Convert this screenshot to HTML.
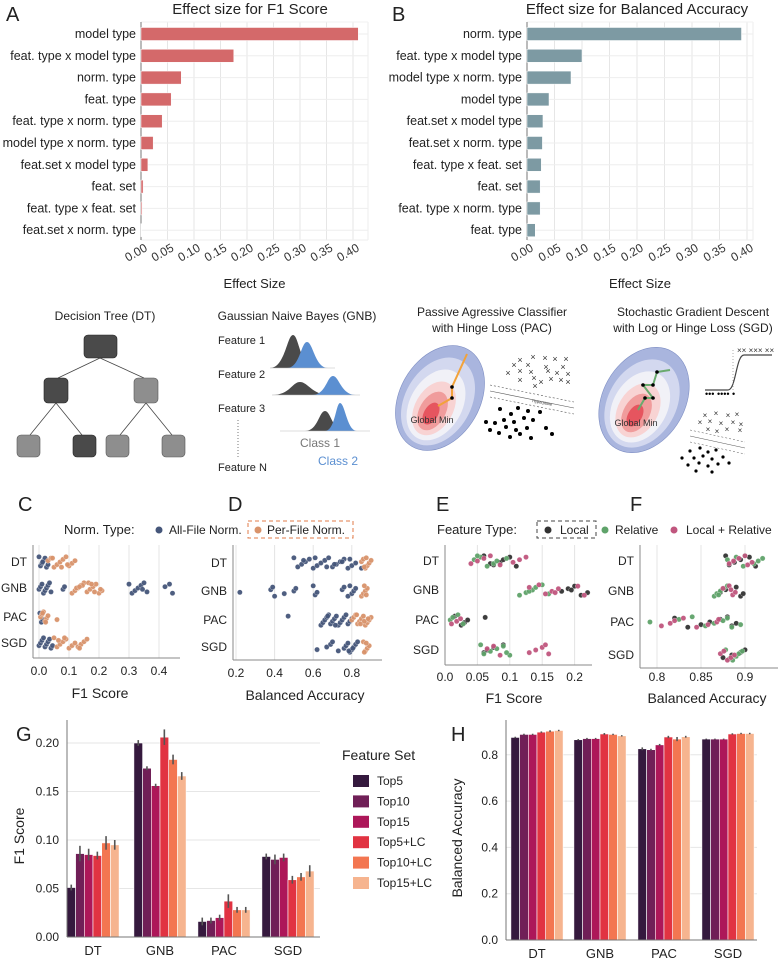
<!DOCTYPE html>
<html><head><meta charset="utf-8"><style>
html,body{margin:0;padding:0;background:#fff;}
svg{display:block;font-family:"Liberation Sans",sans-serif;}
</style></head><body>
<svg id="fig" width="780" height="960" viewBox="0 0 780 960" xmlns="http://www.w3.org/2000/svg">
<g id="gA"></g>
<g id="gB"></g>
<g id="diagrams">
  <g>
    <text x="105" y="320" font-size="12" text-anchor="middle" fill="#222">Decision Tree (DT)</text>
    <g stroke="#444" stroke-width="0.8" fill="none">
      <line x1="100" y1="358" x2="58" y2="378"/><line x1="100" y1="358" x2="144" y2="378"/>
      <line x1="56" y1="403" x2="30" y2="435"/><line x1="56" y1="403" x2="82" y2="435"/>
      <line x1="146" y1="403" x2="120" y2="435"/><line x1="146" y1="403" x2="172" y2="435"/>
    </g>
    <rect x="84" y="335" width="33" height="23" rx="4" fill="#4a4a4a" stroke="#222" stroke-width="0.6"/>
    <rect x="44" y="378" width="24" height="25" rx="4" fill="#4a4a4a" stroke="#222" stroke-width="0.6"/>
    <rect x="134" y="378" width="24" height="25" rx="4" fill="#8e8e8e" stroke="#555" stroke-width="0.6"/>
    <rect x="17" y="435" width="23" height="22" rx="4" fill="#8e8e8e" stroke="#555" stroke-width="0.6"/>
    <rect x="73" y="435" width="23" height="22" rx="4" fill="#4a4a4a" stroke="#222" stroke-width="0.6"/>
    <rect x="106" y="435" width="23" height="22" rx="4" fill="#8e8e8e" stroke="#555" stroke-width="0.6"/>
    <rect x="162" y="435" width="23" height="22" rx="4" fill="#8e8e8e" stroke="#555" stroke-width="0.6"/>
  </g>
  <g>
    <text x="297" y="320" font-size="12" text-anchor="middle" fill="#222">Gaussian Naive Bayes (GNB)</text>
    <g font-size="11" fill="#222">
      <text x="218" y="344">Feature 1</text><text x="218" y="378">Feature 2</text>
      <text x="218" y="412">Feature 3</text><text x="218" y="471">Feature N</text>
    </g>
    <line x1="238" y1="420" x2="238" y2="458" stroke="#777" stroke-dasharray="1,2"/>
    <path d="M270 368 C285 368 287 335 293 335 C299 335 300 368 315 368Z" fill="#4a4a4a"/>
    <path d="M287 368 C300 368 301 342 307 342 C313 342 315 368 328 368Z" fill="#5b8fd1"/>
    <line x1="270" y1="368" x2="335" y2="368" stroke="#bbb" stroke-width="0.6"/>
    <path d="M272 395 C290 395 292 382 300 382 C308 382 312 395 330 395Z" fill="#4a4a4a"/>
    <path d="M312 395 C326 395 327 376 333 376 C339 376 341 395 356 395Z" fill="#5b8fd1"/>
    <line x1="272" y1="395" x2="360" y2="395" stroke="#bbb" stroke-width="0.6"/>
    <path d="M305 431 C318 431 319 411 325 411 C331 411 332 431 345 431Z" fill="#4a4a4a"/>
    <path d="M325 431 C335 431 336 403 340 403 C345 403 347 431 357 431Z" fill="#5b8fd1"/>
    <line x1="280" y1="431" x2="370" y2="431" stroke="#bbb" stroke-width="0.6"/>
    <text x="320" y="447" font-size="12" text-anchor="middle" fill="#777">Class 1</text>
    <text x="338" y="465" font-size="12" text-anchor="middle" fill="#5b8fd1">Class 2</text>
  </g>
  <g>
    <text x="492" y="316" font-size="12" text-anchor="middle" fill="#222">Passive Agressive Classifier</text>
    <text x="492" y="332" font-size="12" text-anchor="middle" fill="#222">with Hinge Loss (PAC)</text>
    <g transform="translate(440,398) rotate(30)">
      <ellipse cx="0" cy="0" rx="40" ry="56" fill="#a9b5de" stroke="#7f8fc4" stroke-width="0.6"/>
      <ellipse cx="0" cy="4" rx="33" ry="47" fill="#d3d8ef"/>
      <ellipse cx="0" cy="8" rx="26" ry="38" fill="#f1f1f7"/>
      <ellipse cx="0" cy="12" rx="19" ry="29" fill="#f8d3d3"/>
      <ellipse cx="0" cy="15" rx="13" ry="21" fill="#f09c9c"/>
      <ellipse cx="0" cy="18" rx="7" ry="12" fill="#e6555f"/>
    </g>
    <polyline points="467,354 452,387 452,398 438,406" fill="none" stroke="#f2a23a" stroke-width="2"/>
    <circle cx="452" cy="387" r="1.8" fill="#000"/><circle cx="452" cy="398" r="1.8" fill="#000"/>
    <text x="432" y="423" font-size="9" text-anchor="middle" fill="#333">Global Min</text>
    <g font-size="9" fill="#333" text-anchor="middle">
      <text x="520" y="363">×</text><text x="533" y="360">×</text><text x="545" y="361">×</text><text x="555" y="362">×</text><text x="566" y="362">×</text>
      <text x="514" y="368">×</text><text x="528" y="368">×</text><text x="546" y="370">×</text><text x="563" y="370">×</text>
      <text x="508" y="376">×</text><text x="520" y="374">×</text><text x="531" y="375">×</text><text x="548" y="374">×</text><text x="557" y="376">×</text><text x="568" y="377">×</text>
      <text x="520" y="383">×</text><text x="534" y="381">×</text><text x="541" y="385">×</text><text x="551" y="382">×</text><text x="561" y="383">×</text><text x="568" y="385">×</text><text x="535" y="389">×</text>
    </g>
    <g stroke="#555" stroke-width="0.6">
      <line x1="490" y1="385" x2="574" y2="402" stroke-dasharray="2,2"/>
      <line x1="490" y1="391" x2="574" y2="408"/>
      <line x1="490" y1="397" x2="574" y2="414" stroke-dasharray="2,2"/>
    </g>
    <text x="532" y="402" font-size="4" fill="#333" transform="rotate(11 532 402)">Hyperplane</text>
    <g fill="#000">
      <circle cx="500" cy="409" r="2"/><circle cx="518" cy="408" r="2"/><circle cx="511" cy="414" r="2"/><circle cx="528" cy="411" r="2"/><circle cx="540" cy="412" r="2"/>
      <circle cx="486" cy="422" r="2"/><circle cx="495" cy="423" r="2"/><circle cx="504" cy="420" r="2"/><circle cx="514" cy="422" r="2"/><circle cx="524" cy="418" r="2"/><circle cx="533" cy="420" r="2"/>
      <circle cx="490" cy="430" r="2"/><circle cx="506" cy="427" r="2"/><circle cx="516" cy="430" r="2"/><circle cx="527" cy="428" r="2"/><circle cx="546" cy="428" r="2"/>
      <circle cx="499" cy="433" r="2"/><circle cx="520" cy="434" r="2"/><circle cx="531" cy="438" r="2"/><circle cx="510" cy="437" r="2"/><circle cx="552" cy="434" r="2"/>
    </g>
  </g>
  <g>
    <text x="693" y="316" font-size="12" text-anchor="middle" fill="#222">Stochastic Gradient Descent</text>
    <text x="693" y="332" font-size="12" text-anchor="middle" fill="#222">with Log or Hinge Loss (SGD)</text>
    <g transform="translate(644,400) rotate(30)">
      <ellipse cx="0" cy="0" rx="41" ry="56" fill="#a9b5de" stroke="#7f8fc4" stroke-width="0.6"/>
      <ellipse cx="0" cy="4" rx="34" ry="47" fill="#d3d8ef"/>
      <ellipse cx="0" cy="8" rx="27" ry="38" fill="#f1f1f7"/>
      <ellipse cx="0" cy="12" rx="20" ry="29" fill="#f8d3d3"/>
      <ellipse cx="0" cy="15" rx="13" ry="21" fill="#f09c9c"/>
      <ellipse cx="0" cy="18" rx="7" ry="12" fill="#e6555f"/>
    </g>
    <polyline points="670,370 657,372 653,385 643,385 653,398 645,398 638,410" fill="none" stroke="#6aaa6e" stroke-width="2"/>
    <circle cx="657" cy="372" r="1.8" fill="#000"/><circle cx="643" cy="385" r="1.8" fill="#000"/><circle cx="653" cy="385" r="1.8" fill="#000"/><circle cx="645" cy="398" r="1.8" fill="#000"/><circle cx="653" cy="398" r="1.8" fill="#000"/>
    <text x="636" y="426" font-size="9" text-anchor="middle" fill="#333">Global Min</text>
    <path d="M705 390 L728 390 C736 390 736 355 744 355 L772 355" fill="none" stroke="#444" stroke-width="1.2"/>
    <line x1="733" y1="350" x2="733" y2="392" stroke="#777" stroke-width="0.6" stroke-dasharray="1,2"/>
    <text x="737" y="353" font-size="8" fill="#333">××  ×××  ××</text>
    <text x="705" y="397" font-size="9" fill="#000">•••  ••••  •</text>
    <g font-size="8" fill="#333" text-anchor="middle">
      <text x="705" y="418">×</text><text x="716" y="416">×</text><text x="728" y="418">×</text><text x="737" y="417">×</text>
      <text x="700" y="425">×</text><text x="710" y="424">×</text><text x="721" y="426">×</text><text x="733" y="425">×</text><text x="741" y="427">×</text>
      <text x="708" y="432">×</text><text x="717" y="434">×</text><text x="727" y="432">×</text><text x="740" y="433">×</text>
    </g>
    <g stroke="#555" stroke-width="0.5">
      <line x1="690" y1="430" x2="745" y2="442" stroke-dasharray="2,2"/>
      <line x1="690" y1="436" x2="745" y2="448"/>
      <line x1="690" y1="442" x2="745" y2="454" stroke-dasharray="2,2"/>
    </g>
    <g fill="#000">
      <circle cx="690" cy="451" r="1.6"/><circle cx="700" cy="448" r="1.6"/><circle cx="708" cy="452" r="1.6"/><circle cx="716" cy="450" r="1.6"/>
      <circle cx="682" cy="458" r="1.6"/><circle cx="694" cy="458" r="1.6"/><circle cx="703" cy="456" r="1.6"/><circle cx="712" cy="459" r="1.6"/><circle cx="723" cy="457" r="1.6"/>
      <circle cx="688" cy="465" r="1.6"/><circle cx="699" cy="463" r="1.6"/><circle cx="708" cy="466" r="1.6"/><circle cx="718" cy="464" r="1.6"/><circle cx="729" cy="463" r="1.6"/>
      <circle cx="696" cy="471" r="1.6"/><circle cx="712" cy="472" r="1.6"/>
    </g>
  </g>
</g>
<g id="legends">
  <text x="18" y="511" font-size="20" fill="#222">C</text>
  <text x="228" y="511" font-size="20" fill="#222">D</text>
  <text x="436" y="511" font-size="20" fill="#222">E</text>
  <text x="630" y="511" font-size="20" fill="#222">F</text>
  <text x="64" y="534" font-size="13" fill="#222">Norm. Type:</text>
  <circle cx="159" cy="530" r="3.5" fill="#45567a"/>
  <text x="169" y="534" font-size="12" fill="#222">All-File Norm.</text>
  <rect x="248" y="521" width="105" height="17" fill="none" stroke="#e07b4a" stroke-dasharray="4,3"/>
  <circle cx="258" cy="530" r="3.5" fill="#d9936b"/>
  <text x="267" y="534" font-size="12" fill="#222">Per-File Norm.</text>
  <text x="437" y="534" font-size="13" fill="#222">Feature Type:</text>
  <rect x="537" y="521" width="59" height="17" fill="none" stroke="#444" stroke-dasharray="4,3"/>
  <circle cx="548" cy="530" r="3.5" fill="#333"/>
  <text x="560" y="534" font-size="12" fill="#222">Local</text>
  <circle cx="605" cy="530" r="3.5" fill="#5fa36a"/>
  <text x="615" y="534" font-size="12" fill="#222">Relative</text>
  <circle cx="674" cy="530" r="3.5" fill="#c0567e"/>
  <text x="686" y="534" font-size="12" fill="#222">Local + Relative</text>
</g>
<g id="gC"></g>
<g id="gD"></g>
<g id="gE"></g>
<g id="gF"></g>
<g id="gG"></g>
<g id="gH"></g>
</svg>
<script>
const aCategories = ["model type","feat. type x model type","norm. type","feat. type","feat. type x norm. type","model type x norm. type","feat.set x model type","feat. set","feat. type x feat. set","feat.set x norm. type"];
const aValues = [0.41,0.175,0.076,0.057,0.040,0.023,0.013,0.004,0.002,0.0005];
const bCategories = ["norm. type","feat. type x model type","model type x norm. type","model type","feat.set x model type","feat.set x norm. type","feat. type x feat. set","feat. set","feat. type x norm. type","feat. type"];
const bValues = [0.39,0.100,0.080,0.040,0.029,0.028,0.026,0.024,0.024,0.015];
const effectTicks = [0,0.05,0.10,0.15,0.20,0.25,0.30,0.35,0.40];
const effectTickLabels = ["0.00","0.05","0.10","0.15","0.20","0.25","0.30","0.35","0.40"];

const modelRows = ["DT","GNB","PAC","SGD"];
const cAllFile = [[0.0,0.005,0.01,0.015,0.02,0.025,0.03,0.012],
  [0.0,0.005,0.01,0.015,0.02,0.025,0.03,0.035,0.04,0.08,0.085,0.3,0.31,0.32,0.33,0.34,0.35,0.36,0.345,0.42,0.435,0.445],
  [0.003,0.008,0.012],
  [0.0,0.005,0.01,0.015,0.02,0.025,0.03,0.035,0.04,0.045]];
const cPerFile = [[0.03,0.04,0.05,0.06,0.07,0.08,0.09,0.1,0.11,0.12,0.045,0.075,0.095],
  [0.11,0.12,0.13,0.14,0.15,0.16,0.17,0.18,0.19,0.2,0.21,0.125,0.145,0.165,0.185,0.205,0.135,0.175],
  [0.005,0.01,0.015,0.02,0.025,0.03,0.012,0.022,0.06],
  [0.05,0.06,0.07,0.08,0.09,0.1,0.11,0.12,0.065,0.085,0.13,0.14,0.15,0.16,0.135]];
const dAllFile = [[0.5,0.52,0.54,0.56,0.58,0.6,0.62,0.64,0.66,0.68,0.7,0.72,0.74,0.76,0.78,0.8,0.82,0.55,0.61,0.67,0.71,0.75,0.79,0.85],
  [0.22,0.38,0.39,0.4,0.45,0.5,0.51,0.6,0.61,0.62,0.75,0.76,0.78,0.8,0.81,0.82,0.79],
  [0.47,0.64,0.65,0.66,0.67,0.68,0.69,0.7,0.71,0.72,0.73,0.74,0.75,0.76,0.77,0.78,0.79,0.8,0.675,0.715],
  [0.62,0.67,0.69,0.7,0.73,0.76,0.77,0.78,0.79,0.8,0.81,0.82,0.83,0.785,0.805]];
const dPerFile = [[0.85,0.86,0.87,0.88,0.89,0.9,0.875,0.865],
  [0.85,0.86,0.87,0.88,0.865,0.875],
  [0.8,0.81,0.82,0.83,0.84,0.85,0.86,0.87,0.88,0.89,0.9,0.825,0.845,0.865,0.885],
  [0.86,0.87,0.88,0.89,0.875,0.865]];
const cTicks = [0,0.1,0.2,0.3,0.4];
const cTickLabels = ["0.0","0.1","0.2","0.3","0.4"];
const dTicks = [0.2,0.4,0.6,0.8];
const dTickLabels = ["0.2","0.4","0.6","0.8"];

const eLocal = [[0.06,0.075,0.085,0.09,0.1,0.11,0.07],
  [0.18,0.19,0.2,0.21,0.22,0.195],
  [0.015,0.025,0.03,0.035,0.062],
  [0.06,0.065,0.075,0.09]];
const eRelative = [[0.045,0.055,0.065,0.075,0.08,0.095,0.05],
  [0.115,0.125,0.135,0.14,0.15,0.16,0.13],
  [0.008,0.012,0.02,0.028],
  [0.055,0.06,0.07,0.08,0.09,0.1,0.095]];
const eLocalRel = [[0.04,0.05,0.06,0.07,0.085,0.105,0.115,0.125],
  [0.13,0.145,0.155,0.165,0.175,0.205,0.215,0.17],
  [0.01,0.018,0.024],
  [0.065,0.075,0.085,0.13,0.14,0.15,0.155,0.16]];
const fLocal = [[0.878,0.882,0.888,0.895,0.905,0.912],
  [0.872,0.878,0.89,0.895,0.898],
  [0.82,0.835,0.85,0.86,0.872,0.88,0.885,0.89],
  [0.875,0.885,0.895,0.9]];
const fRelative = [[0.88,0.89,0.898,0.91,0.915,0.92,0.9],
  [0.865,0.868,0.872,0.876,0.88,0.87],
  [0.792,0.825,0.84,0.855,0.865,0.875,0.88,0.885,0.895],
  [0.878,0.882,0.89,0.893,0.897,0.886]];
const fLocalRel = [[0.882,0.887,0.893,0.9,0.903,0.908],
  [0.875,0.882,0.886,0.889,0.884],
  [0.805,0.815,0.82,0.83,0.845,0.858,0.868,0.87],
  [0.872,0.876,0.88,0.884,0.888]];
const eTicks = [0,0.05,0.1,0.15,0.2];
const eTickLabels = ["0.0","0.05","0.1","0.15","0.2"];
const fTicks = [0.8,0.85,0.9];
const fTickLabels = ["0.8","0.85","0.9"];

const featureSets = ["Top5","Top10","Top15","Top5+LC","Top10+LC","Top15+LC"];
const gDT  = [0.051,0.086,0.085,0.084,0.097,0.095];
const gGNB = [0.200,0.174,0.156,0.206,0.183,0.166];
const gPAC = [0.016,0.017,0.020,0.037,0.028,0.028];
const gSGD = [0.083,0.080,0.082,0.059,0.062,0.068];
const gErr = [[0.003,0.008,0.006,0.004,0.007,0.005],[0.003,0.002,0.002,0.008,0.005,0.004],[0.004,0.003,0.003,0.007,0.003,0.003],[0.003,0.005,0.004,0.004,0.004,0.006]];
const hDT  = [0.875,0.888,0.888,0.898,0.902,0.905];
const hGNB = [0.865,0.870,0.870,0.890,0.888,0.882];
const hPAC = [0.826,0.822,0.843,0.877,0.868,0.878];
const hSGD = [0.868,0.868,0.868,0.890,0.892,0.892];
const hErr = [[0.003,0.003,0.003,0.003,0.004,0.003],[0.003,0.003,0.003,0.004,0.003,0.003],[0.006,0.004,0.004,0.005,0.009,0.004],[0.002,0.002,0.002,0.003,0.003,0.003]];
const gTicks = [0,0.05,0.10,0.15,0.20];
const gTickLabels = ["0.00","0.05","0.10","0.15","0.20"];
const hTicks = [0,0.2,0.4,0.6,0.8];
const hTickLabels = ["0.0","0.2","0.4","0.6","0.8"];
const palette = ["#35193e","#701f57","#ad1759","#e13342","#f37651","#f6b48f"];

const NS = "http://www.w3.org/2000/svg";
function mk(parent, tag, attrs, text){
  const e = document.createElementNS(NS, tag);
  for (const k in attrs) e.setAttribute(k, attrs[k]);
  if (text !== undefined) e.textContent = text;
  parent.appendChild(e);
  return e;
}

function effectPanel(gid, letter, lx, title, tx, x0, pxPer005, right, cats, vals, color){
  const g = document.getElementById(gid);
  const xs = v => x0 + v / 0.05 * pxPer005;
  const rowY = i => 34 + i * 21.8;
  const t1 = mk(g,'text',{x:lx,y:21,'font-size':20,fill:'#222'},letter);
  
  
  const t2 = mk(g,'text',{x:tx,y:14,'font-size':15,'text-anchor':'middle',fill:'#222'},title);
  
  
  effectTicks.forEach((t,i)=>{
    const gl = mk(g,'line',{x1:xs(t),x2:xs(t),y1:22,y2:240,stroke:'#e6e6e6','stroke-width':1});
    
    
    const lb = mk(g,'text',{x:0,y:0,'font-size':12,'text-anchor':'middle',fill:'#333',transform:`translate(${xs(t)-3},${256}) rotate(-30)`},effectTickLabels[i]);
    
    
  });
  cats.forEach((c,i)=>{
    const hl = mk(g,'line',{x1:x0,x2:right,y1:rowY(i),y2:rowY(i),stroke:'#eeeeee','stroke-width':1});
    
    
  });
  mk(g,'line',{x1:right,x2:right,y1:22,y2:240,stroke:'#eeeeee'});
  mk(g,'line',{x1:x0,x2:right,y1:240,y2:240,stroke:'#eeeeee'});
  mk(g,'line',{x1:x0,x2:right,y1:22,y2:22,stroke:'#f2f2f2'});
  const ax = mk(g,'line',{x1:x0,x2:x0,y1:22,y2:240,stroke:'#777','stroke-width':1});
  
  
  cats.forEach((c,i)=>{
    const r = mk(g,'rect',{x:x0,y:rowY(i)-6.5,width:Math.max(0.5,xs(vals[i])-x0),height:13,fill:color,stroke:'#fff','stroke-width':0.5});
    
    
    const l = mk(g,'text',{x:x0-5,y:rowY(i)+4,'font-size':12.5,'text-anchor':'end',fill:'#222'},c);
    
    
  });
  const xl = mk(g,'text',{x:(x0+right)/2,y:288,'font-size':13,'text-anchor':'middle',fill:'#222'},'Effect Size');
  
  
}
effectPanel('gA','A',6,'Effect size for F1 Score',250,141,26.5,368,aCategories,aValues,'#d4696a');
effectPanel('gB','B',392,'Effect size for Balanced Accuracy',637,527,27.5,753,bCategories,bValues,'#7d9aa3');

function stripPanel(gid, opt){
  const g = document.getElementById(gid);
  const xs = v => opt.x0 + (v - opt.v0) * opt.k;
  opt.ticks.forEach((t,i)=>{
    const gl = mk(g,'line',{x1:xs(t),x2:xs(t),y1:opt.top,y2:opt.bottom,stroke:'#e4e4e4'});
    
    
    const lb = mk(g,'text',{x:xs(t),y:opt.tickY,'font-size':12,'text-anchor':'middle',fill:'#222'},opt.tickLabels[i]);
    
    
  });
  mk(g,'line',{x1:opt.axisX,x2:opt.axisX,y1:opt.top,y2:opt.bottom,stroke:'#888'});
  mk(g,'line',{x1:opt.axisX,x2:opt.right,y1:opt.bottom,y2:opt.bottom,stroke:'#888'});
  modelRows.forEach((m,r)=>{
    const l = mk(g,'text',{x:opt.axisX-6,y:opt.rows[r]+4,'font-size':12,'text-anchor':'end',fill:'#222'},m);
    
    
    opt.series.forEach((s,si)=>{
      s.vals[r].forEach((v,i)=>{
        const dy = (((i*7 + si*3 + r*5) % 9) - 4) * 1.3;
        const c = mk(g,'circle',{cx:xs(v),cy:opt.rows[r]+dy,r:2.6,fill:s.color,stroke:'#fff','stroke-width':0.3,opacity:0.95});
        
        
      });
    });
  });
  const xl = mk(g,'text',{x:opt.labelX,y:opt.labelY,'font-size':14,'text-anchor':'middle',fill:'#222'},opt.label);
  
  
}
stripPanel('gC',{x0:39,v0:0,k:300,axisX:33,right:180,top:545,bottom:658,rows:[562,588,617,643],ticks:cTicks,tickLabels:cTickLabels,tickY:675,label:'F1 Score',labelX:100,labelY:698,
  series:[{vals:cAllFile,color:'#45567a'},{vals:cPerFile,color:'#d9936b'}]});
stripPanel('gD',{x0:236,v0:0.2,k:193,axisX:233,right:382,top:545,bottom:660,rows:[563,591,620,647],ticks:dTicks,tickLabels:dTickLabels,tickY:677,label:'Balanced Accuracy',labelX:305,labelY:700,
  series:[{vals:dAllFile,color:'#45567a'},{vals:dPerFile,color:'#d9936b'}]});
stripPanel('gE',{x0:445,v0:0,k:648,axisX:445,right:592,top:545,bottom:665,rows:[561,590,620,650],ticks:eTicks,tickLabels:eTickLabels,tickY:681,label:'F1 Score',labelX:514,labelY:703,
  series:[{vals:eLocal,color:'#333333'},{vals:eRelative,color:'#5fa36a'},{vals:eLocalRel,color:'#c0567e'}]});
stripPanel('gF',{x0:657,v0:0.8,k:880,axisX:640,right:778,top:545,bottom:668,rows:[561,591,622,655],ticks:fTicks,tickLabels:fTickLabels,tickY:681,label:'Balanced Accuracy',labelX:707,labelY:703,
  series:[{vals:fLocal,color:'#333333'},{vals:fRelative,color:'#5fa36a'},{vals:fLocalRel,color:'#c0567e'}]});

function barPanel(gid, opt){
  const g = document.getElementById(gid);
  const ys = v => opt.y0 - v * opt.k;
  const lt = mk(g,'text',{x:opt.letterX,y:741,'font-size':20,fill:'#222'},opt.letter);
  
  
  opt.ticks.forEach((t,i)=>{
    const gl = mk(g,'line',{x1:opt.x0,x2:opt.right,y1:ys(t),y2:ys(t),stroke:'#e6e6e6'});
    
    
    const lb = mk(g,'text',{x:opt.x0-8,y:ys(t)+4,'font-size':12,'text-anchor':'end',fill:'#222'},opt.tickLabels[i]);
    
    
  });
  const bw = 8.7;
  opt.groups.forEach((vals,gi)=>{
    const cx = opt.centers[gi];
    vals.forEach((v,i)=>{
      const x = cx - 3*bw + i*bw;
      const r = mk(g,'rect',{x:x,y:ys(v),width:bw,height:opt.y0-ys(v),fill:palette[i],stroke:'#fff','stroke-width':0.6});
      
      
      const e = opt.err[gi][i];
      mk(g,'line',{x1:x+bw/2,x2:x+bw/2,y1:ys(v+e),y2:ys(v-e),stroke:'#555','stroke-width':1.6});
    });
    const lb = mk(g,'text',{x:cx,y:opt.y0+18,'font-size':13,'text-anchor':'middle',fill:'#222'},modelRows[gi]);
    
    
  });
  mk(g,'line',{x1:opt.x0,x2:opt.x0,y1:opt.top,y2:opt.y0,stroke:'#777'});
  mk(g,'line',{x1:opt.x0,x2:opt.right,y1:opt.y0,y2:opt.y0,stroke:'#777'});
  const yl = mk(g,'text',{x:0,y:0,'font-size':14,'text-anchor':'middle',fill:'#222',transform:`translate(${opt.ylabX},${opt.ylabY}) rotate(-90)`},opt.ylabel);
  
  
}
barPanel('gG',{letter:'G',letterX:16,x0:67,right:320,top:720,y0:937,k:970,ticks:gTicks,tickLabels:gTickLabels,
  groups:[gDT,gGNB,gPAC,gSGD],centers:[93,160,224,288],err:gErr,ylabel:'F1 Score',ylabX:24,ylabY:836});
barPanel('gH',{letter:'H',letterX:451,x0:506,right:757,top:720,y0:940,k:231.5,ticks:hTicks,tickLabels:hTickLabels,
  groups:[hDT,hGNB,hPAC,hSGD],centers:[537,600,664,728],err:hErr,ylabel:'Balanced Accuracy',ylabX:462,ylabY:838});

(function(){
  const g = document.getElementById('gG');
  const t = mk(g,'text',{x:342,y:760,'font-size':14,fill:'#222'},'Feature Set');
  
  
  featureSets.forEach((f,i)=>{
    const y = 781 + i*20.4;
    const r = mk(g,'rect',{x:353,y:y-6,width:16,height:12,fill:palette[i]});
    
    
    const l = mk(g,'text',{x:377,y:y+4,'font-size':12,fill:'#222'},f);
    
    
  });
})();
</script>
</body></html>
